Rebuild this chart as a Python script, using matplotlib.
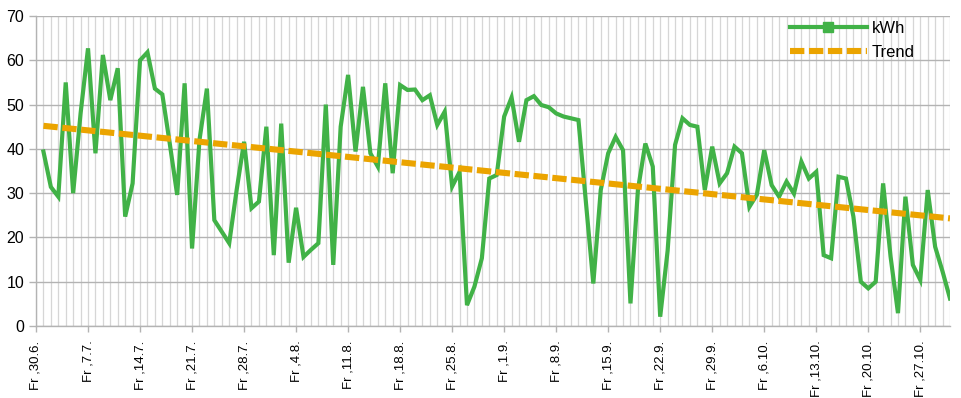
import matplotlib
matplotlib.use("Agg")
import matplotlib.pyplot as plt
from matplotlib.lines import Line2D
from matplotlib.ticker import MultipleLocator, FixedLocator

plt.rcParams['font.family'] = ['Liberation Sans', 'DejaVu Sans']

# day offsets from Fr 30.6. (day 0)
days = list(range(1, 124))
kwh = [39.4, 31.4, 29.2, 55.0, 30.0, 48.0, 62.7, 39.0, 61.2, 51.0,
       58.2, 24.7, 32.2, 60.0, 61.8, 53.6, 52.3, 41.2, 29.6, 54.8,
       17.5, 42.0, 53.6, 23.9, 21.3, 18.7, 30.7, 41.6, 26.6, 28.1,
       45.0, 16.0, 45.7, 14.3, 26.7, 15.6, 17.2, 18.7, 50.0, 13.8,
       45.0, 56.7, 39.4, 54.0, 39.0, 36.0, 54.8, 34.5, 54.4, 53.3,
       53.4, 51.0, 52.1, 45.4, 48.4, 31.5, 34.8, 4.7, 8.9, 15.3,
       33.3, 34.1, 47.3, 51.6, 41.6, 51.0, 51.9, 49.9, 49.4, 48.0,
       47.3, 46.9, 46.5, 28.0, 9.6, 30.7, 39.0, 42.7, 39.7, 5.1,
       30.7, 41.2, 36.0, 2.1, 17.0, 40.9, 46.9, 45.4, 45.0, 30.7,
       40.5, 32.2, 34.5, 40.5, 39.0, 26.9, 29.6, 39.7, 31.8, 29.2,
       32.6, 29.9, 37.1, 33.3, 34.8, 16.0, 15.3, 33.7, 33.3, 24.7,
       10.0, 8.5, 10.0, 32.2, 15.7, 2.9, 29.2, 13.8, 10.4, 30.7,
       17.9, 12.3, 6.2]

trend_days = [1, 123]
trend_vals = [45.2, 24.3]

tick_days = [0, 7, 14, 21, 28, 35, 42, 49, 56, 63, 70, 77, 84, 91, 98, 105, 112, 119]
tick_labels = ["Fr ,30.6.", "Fr ,7.7.", "Fr ,14.7.", "Fr ,21.7.", "Fr ,28.7.",
               "Fr ,4.8.", "Fr ,11.8.", "Fr ,18.8.", "Fr ,25.8.", "Fr ,1.9.",
               "Fr ,8.9.", "Fr ,15.9.", "Fr ,22.9.", "Fr ,29.9.", "Fr ,6.10.",
               "Fr ,13.10.", "Fr ,20.10.", "Fr ,27.10."]

GREEN = '#41b247'
ORANGE = '#eba400'

fig = plt.figure(figsize=(9.62, 3.98), dpi=100)
ax = fig.add_axes([36/962, 1-326/398, (950-36)/962, (326-16)/398])

ax.plot(days, kwh, color=GREEN, lw=3.0, solid_joinstyle='miter', zorder=3)
ax.plot(trend_days, trend_vals, color=ORANGE, lw=4.4, dashes=(2.35, 0.75),
        dash_capstyle='butt', zorder=4)

ax.set_xlim(0, 123)
ax.set_ylim(0, 70)
ax.yaxis.set_major_locator(MultipleLocator(10))
ax.xaxis.set_major_locator(FixedLocator(tick_days))
ax.xaxis.set_minor_locator(MultipleLocator(1))
ax.set_xticks(tick_days)
ax.set_xticklabels(tick_labels, rotation=90, ha='center', va='top', fontsize=9.5)

ax.grid(axis='x', which='minor', color='#d6d6d6', lw=0.9)
ax.grid(axis='x', which='major', color='#d6d6d6', lw=0.9)
ax.grid(axis='y', which='major', color='#b3b3b3', lw=1.0)
ax.set_axisbelow(True)

for s in ['top', 'right']:
    ax.spines[s].set_visible(False)
for s in ['left', 'bottom']:
    ax.spines[s].set_color('#b3b3b3')
    ax.spines[s].set_linewidth(1.0)

ax.tick_params(axis='y', which='major', length=5, width=1.0, color='#b3b3b3',
               labelsize=11.5, pad=3.5, labelcolor='black')
ax.tick_params(axis='x', which='major', length=4.5, width=1.0, color='#b3b3b3',
               pad=6, labelcolor='black')
ax.tick_params(axis='x', which='minor', length=0)

h1 = Line2D([], [], color=GREEN, lw=3.0, marker='s', markersize=7.5)
h2 = Line2D([], [], color=ORANGE, lw=4.4, dashes=(2.35, 0.75), dash_capstyle='butt')
leg = fig.legend([h1, h2], ['kWh', 'Trend'], loc='upper left',
                 bbox_to_anchor=(790/962, 1-21/398), frameon=False,
                 fontsize=12, handlelength=4.6, handletextpad=0.3,
                 labelspacing=0.52, borderpad=0, borderaxespad=0, numpoints=1)

fig.savefig('out.png', dpi=100)
